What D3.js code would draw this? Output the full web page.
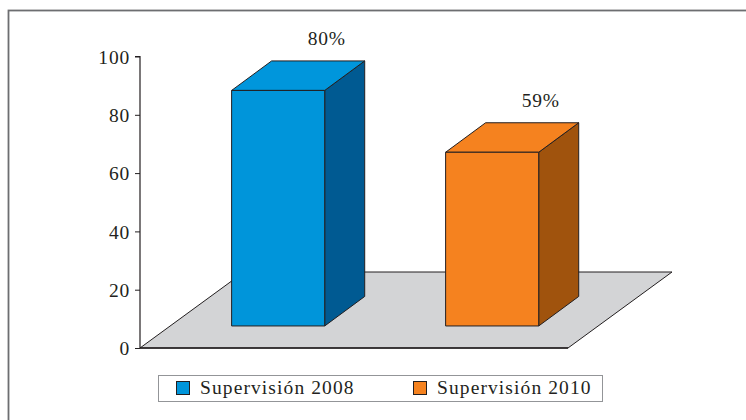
<!DOCTYPE html>
<html><head><meta charset="utf-8">
<script src="https://cdn.jsdelivr.net/npm/d3@7"></script>
<style>html,body{margin:0;padding:0;background:#fff;overflow:hidden}</style>
</head><body>
<svg id="c" width="746" height="420"></svg>
<script>
const categories = ["Supervisión 2008", "Supervisión 2010"];
const values = [80, 59];
const labels = ["80%", "59%"];
const yTicks = [0, 20, 40, 60, 80, 100];
const frontColors = ["#0095da", "#f5821f"];
const topColors = ["#0096dc", "#f5821f"];
const sideColors = ["#005a92", "#a0530d"];

const svg = d3.select("#c");
const font = "'Liberation Serif', serif";
const fs = 19.5;
const ink = "#231f20";

svg.append("rect").attr("x", 8.5).attr("y", 10.5).attr("width", 760).attr("height", 430)
  .attr("fill", "none").attr("stroke", "#6d6e71").attr("stroke-width", 1.8);

const y = d3.scaleLinear().domain([0, 100]).range([348, 56.5]);
const x = d3.scaleBand().domain(categories).range([141, 569]).paddingInner(0.565).paddingOuter(0.2825);

const floorDx = 104, floorDy = -76;
const barDepthFrac = 0.29;
const bDx = 40, bDy = -29.5;

const fl = [[140, y(0)], [568, y(0)], [568 + floorDx, y(0) + floorDy], [140 + floorDx, y(0) + floorDy]];
svg.append("path").attr("d", d3.line()(fl) + "Z")
  .attr("fill", "#d3d4d6").attr("stroke", ink).attr("stroke-width", 1);
svg.append("line").attr("x1", 140).attr("x2", 568).attr("y1", y(0)).attr("y2", y(0))
  .attr("stroke", ink).attr("stroke-width", 1.6);

const shiftX = floorDx * barDepthFrac, shiftY = floorDy * barDepthFrac;
const base = y(0) + shiftY;
const pxPerUnit = (y(0) - y(100)) / 100 * 1.01;
categories.forEach((c, i) => {
  const x0 = x(c) + shiftX, x1 = x0 + x.bandwidth();
  const top = base - values[i] * pxPerUnit;
  const g = svg.append("g").attr("stroke", ink).attr("stroke-width", 1).attr("stroke-linejoin", "round");
  g.append("path").attr("d", d3.line()([[x1, base], [x1 + bDx, base + bDy], [x1 + bDx, top + bDy], [x1, top]]) + "Z")
    .attr("fill", sideColors[i]);
  g.append("path").attr("d", d3.line()([[x0, top], [x1, top], [x1 + bDx, top + bDy], [x0 + bDx, top + bDy]]) + "Z")
    .attr("fill", topColors[i]);
  g.append("rect").attr("x", x0).attr("y", top).attr("width", x1 - x0).attr("height", base - top)
    .attr("fill", frontColors[i]);
  svg.append("text").attr("x", x1 + 2).attr("y", top + bDy - 16)
    .attr("text-anchor", "middle").style("font-family", font).style("font-size", fs + "px")
    .style("letter-spacing", "0.8px").attr("fill", ink)
    .text(labels[i]);
});

const ax = svg.append("g").attr("transform", "translate(140,0)")
  .call(d3.axisLeft(y).tickValues(yTicks).tickSize(5).tickPadding(5));
ax.attr("font-family", null).attr("font-size", null);
ax.select(".domain").attr("stroke", ink).attr("stroke-width", 1.2).attr("d", `M-5,${y(100)}H0V${y(0)}`);
ax.selectAll(".tick line").attr("stroke", ink);
ax.selectAll(".tick text").style("font-family", font).style("font-size", fs + "px")
  .style("letter-spacing", "0.8px").attr("fill", ink).attr("dy", "0.35em");

const lg = svg.append("g");
lg.append("rect").attr("x", 158.5).attr("y", 375.5).attr("width", 444).attr("height", 26)
  .attr("fill", "#fff").attr("stroke", "#939598").attr("stroke-width", 1);
const lx = [176, 413];
categories.forEach((c, i) => {
  lg.append("rect").attr("x", lx[i] + 0.5).attr("y", 381.5).attr("width", 13).attr("height", 13)
    .attr("fill", frontColors[i]).attr("stroke", ink).attr("stroke-width", 1);
  lg.append("text").attr("x", lx[i] + 24).attr("y", 394).style("font-family", font).style("font-size", fs + "px")
    .style("letter-spacing", "1.1px").attr("fill", ink).text(c);
});
</script>
</body></html>
